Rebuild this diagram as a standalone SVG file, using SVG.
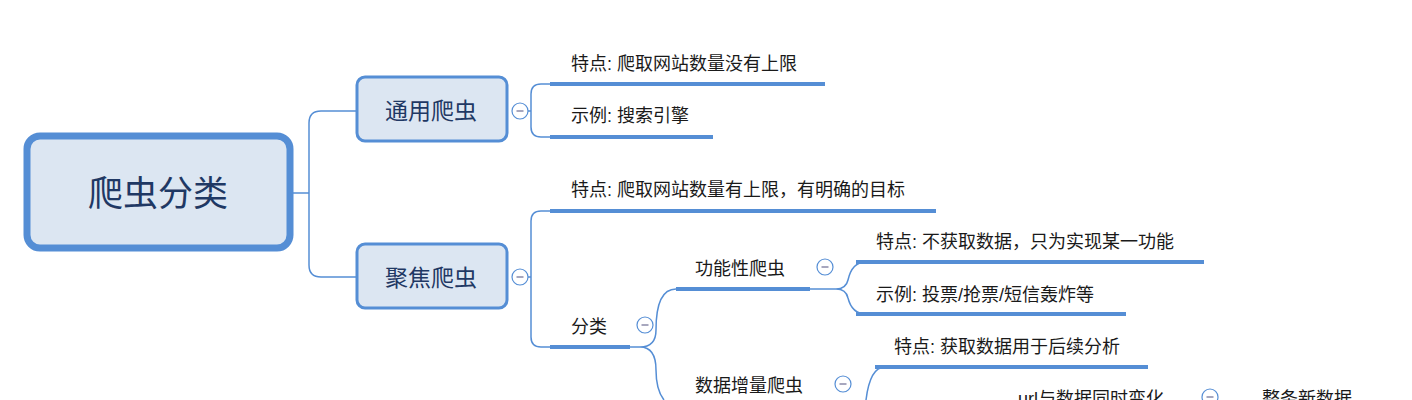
<svg xmlns="http://www.w3.org/2000/svg" width="1412" height="400" viewBox="0 0 1412 400">
<style>
text{font-family:"Liberation Sans","Noto Sans CJK SC",sans-serif;fill:#1a1a1a;font-size:18px}
.n{fill:#dce6f2;stroke:#558ed5}
text.nt{fill:#1f3864;text-anchor:middle;dominant-baseline:central;font-size:23px}
text.rt{font-size:35px}
.c{fill:none;stroke:#558ed5;stroke-width:1.5}
.u{stroke:#558ed5;stroke-width:4}
.col{fill:#fff;stroke:#558ed5;stroke-width:1.2}
</style>
<defs><g id="m"><circle r="8" class="col"/><line x1="-3.5" x2="3.5" stroke="#8a8aa8" stroke-width="1.5"/></g></defs>
<g id="connectors">
<path class="c" d="M292 193H309M356 111H321Q309 111 309 123V265Q309 277 321 277H356"/>
<path class="c" d="M528 111H531M550 84H541Q531 84 531 94V127Q531 137 541 137H550"/>
<path class="c" d="M528 277H531M550 211H541Q531 211 531 221V337Q531 347 541 347H550"/>
<path class="c" d="M630 347H640Q656 347 656 330Q656 289 676 289M640 347Q656 347 656 370Q656 390 664 400"/>
<path class="c" d="M810 289H836Q846 289 848 280Q852 262 866 262M836 289Q846 289 848 298Q852 314 866 314"/>
<path class="c" d="M866 400Q870 367 885 367"/>
<line class="u" x1="550" y1="84" x2="825" y2="84"/>
<line class="u" x1="550" y1="137" x2="713" y2="137"/>
<line class="u" x1="550" y1="211" x2="936" y2="211"/>
<line class="u" x1="550" y1="347" x2="630" y2="347"/>
<line class="u" x1="676" y1="289" x2="810" y2="289"/>
<line class="u" x1="856" y1="262" x2="1204" y2="262"/>
<line class="u" x1="856" y1="314" x2="1126" y2="314"/>
<line class="u" x1="875" y1="367" x2="1148" y2="367"/>
</g>
<g id="root"><rect class="n" x="27" y="136" width="263" height="112" rx="13" stroke-width="7"/><text class="nt rt" x="158" y="193">爬虫分类</text></g>
<g id="general"><rect class="n" x="357" y="77" width="150" height="64" rx="8" stroke-width="3"/><text class="nt" x="431" y="111">通用爬虫</text><use href="#m" x="520" y="111"/></g>
<g id="focused"><rect class="n" x="357" y="244" width="150" height="64" rx="8" stroke-width="3"/><text class="nt" x="431" y="278">聚焦爬虫</text><use href="#m" x="520" y="277"/></g>
<g id="g1"><text x="571" y="70">特点: 爬取网站数量没有上限</text></g>
<g id="g2"><text x="571" y="122">示例: 搜索引擎</text></g>
<g id="f1"><text x="571" y="196">特点: 爬取网站数量有上限，有明确的目标</text></g>
<g id="f2"><text x="571" y="333">分类</text><use href="#m" x="645" y="325"/></g>
<g id="func"><text x="695" y="275">功能性爬虫</text><use href="#m" x="825" y="267"/></g>
<g id="func1"><text x="876" y="248">特点: 不获取数据，只为实现某一功能</text></g>
<g id="func2"><text x="876" y="301">示例: 投票/抢票/短信轰炸等</text></g>
<g id="inc"><text x="695" y="392">数据增量爬虫</text><use href="#m" x="843" y="384"/></g>
<g id="inc1"><text x="894" y="353">特点: 获取数据用于后续分析</text></g>
<g id="inc2"><text x="1018" y="405">url与数据同时变化</text><use href="#m" x="1210" y="397"/></g>
<g id="inc3"><text x="1262" y="405">整条新数据</text></g>
</svg>
